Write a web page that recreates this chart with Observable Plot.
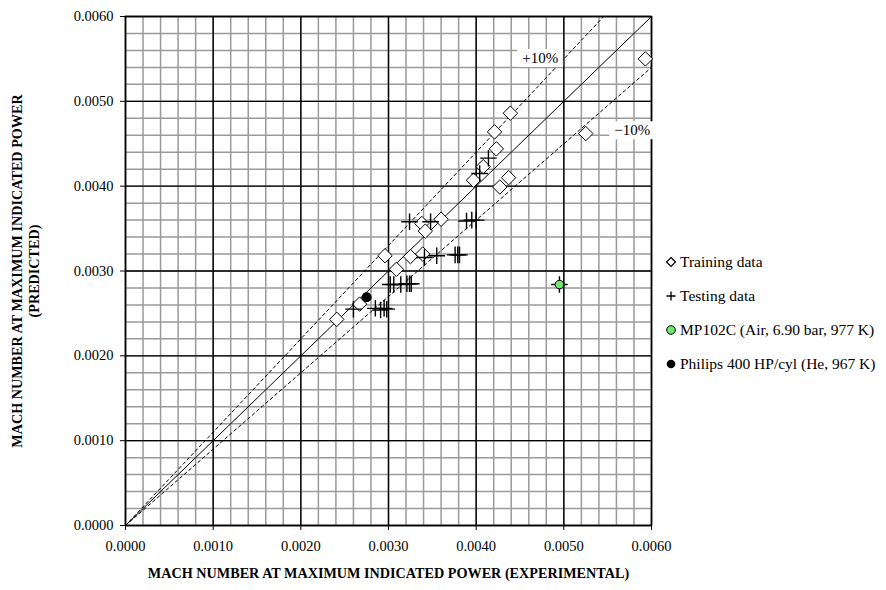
<!DOCTYPE html>
<html><head><meta charset="utf-8">
<script src="https://cdn.jsdelivr.net/npm/d3@7"></script>
<script src="https://cdn.jsdelivr.net/npm/@observablehq/plot@0.6"></script>
<style>
body{margin:0;background:#fff;font-family:"Liberation Serif",serif;}
#wrap{position:relative;width:886px;height:590px;}
#chart{position:absolute;left:0;top:0;}
#legend{position:absolute;left:665px;top:245px;font-size:15.5px;color:#000;}
#legend div{height:34px;display:flex;align-items:center;white-space:nowrap;}
#legend svg{margin-right:3px;}
</style></head><body><div id="wrap"><div id="chart"></div><div id="legend"></div></div>
<script>
// Training data (diamonds)
const trainX = [0.00241,0.00267,0.00296,0.00309,0.00325,0.00339,0.00338,0.00342,0.00360,0.00397,0.00408,0.00423,0.00421,0.00439,0.00437,0.00427,0.00525,0.00593];
const trainY = [0.00243,0.00261,0.00318,0.00302,0.00317,0.00320,0.00356,0.00347,0.00361,0.00407,0.00423,0.00444,0.00464,0.00486,0.00410,0.00399,0.00462,0.00550];
// Testing data (pluses)
const testX = [0.00260,0.00285,0.00291,0.00295,0.00298,0.00302,0.00306,0.00314,0.00321,0.00324,0.00326,0.00341,0.00355,0.00376,0.00379,0.00381,0.00324,0.00348,0.00389,0.00395,0.00400,0.00404,0.00414,0.00495];
const testY = [0.00255,0.00256,0.00254,0.00256,0.00255,0.00284,0.00284,0.00284,0.00285,0.00285,0.00285,0.00316,0.00318,0.00319,0.00319,0.00319,0.00358,0.00358,0.00359,0.00360,0.00360,0.00415,0.00433,0.00284];
// Engines
const mpX = [0.00495], mpY = [0.00284];
const philipsX = [0.00275], philipsY = [0.00269];
// Reference lines: ratio predicted/experimental
const refRatios = [1.0, 1.1, 0.9];
const refLabels = ["", "+10%", "\u221210%"];
const labelX = [null, 0.00473, 0.00578];
const labelY = [null, 0.00551, 0.00466];
// Axes
const axisMax = 0.006;
const majorTicks = [0, 0.001, 0.002, 0.003, 0.004, 0.005, 0.006];
const minorTicks = d3.range(0, 31).map(i => i * 0.0002);
const xTitle = "MACH NUMBER AT MAXIMUM INDICATED POWER (EXPERIMENTAL)";
const yTitle = "MACH NUMBER AT MAXIMUM INDICATED POWER\n(PREDICTED)";
const legendItems = ["Training data", "Testing data", "MP102C (Air, 6.90 bar, 977 K)", "Philips 400 HP/cyl (He, 967 K)"];

const train = trainX.map((x, i) => ({x, y: trainY[i]}));
const test = testX.map((x, i) => ({x, y: testY[i]}));
const mp = mpX.map((x, i) => ({x, y: mpY[i]}));
const philips = philipsX.map((x, i) => ({x, y: philipsY[i]}));
const refLines = refRatios.map((r, i) => {
  const xe = Math.min(axisMax, axisMax / r);
  return [{x: 0, y: 0, k: i}, {x: xe, y: xe * r, k: i}];
});
const labels = refLabels.map((t, i) => ({t, x: labelX[i], y: labelY[i]})).filter(d => d.t);
const boxSymbol = {draw(ctx) { ctx.rect(-23, -9, 46, 18); }};

const chart = Plot.plot({
  width: 700, height: 590,
  marginLeft: 125, marginRight: 49, marginTop: 16, marginBottom: 65,
  style: {fontFamily: "Liberation Serif, serif", fontSize: "14.5px", color: "#000", background: "transparent"},
  x: {domain: [0, axisMax]},
  y: {domain: [0, axisMax]},
  marks: [
    Plot.gridX(minorTicks, {stroke: "#9a9a9a", strokeOpacity: 1, strokeWidth: 1.5}),
    Plot.gridY(minorTicks, {stroke: "#9a9a9a", strokeOpacity: 1, strokeWidth: 1.5}),
    Plot.gridX(majorTicks, {stroke: "#000", strokeOpacity: 1, strokeWidth: 1.4}),
    Plot.gridY(majorTicks, {stroke: "#000", strokeOpacity: 1, strokeWidth: 1.4}),
    Plot.frame({stroke: "#000", strokeWidth: 1.4}),
    Plot.axisX(majorTicks, {tickFormat: d3.format(".4f"), tickSize: 5, tickPadding: 10, label: null}),
    Plot.axisY(majorTicks, {tickFormat: d3.format(".4f"), tickSize: 5, tickPadding: 7, label: null}),
    Plot.line(refLines[0], {x: "x", y: "y", stroke: "#000", strokeWidth: 1}),
    Plot.line(refLines[1], {x: "x", y: "y", stroke: "#000", strokeWidth: 1, strokeDasharray: "3,3"}),
    Plot.line(refLines[2], {x: "x", y: "y", stroke: "#000", strokeWidth: 1, strokeDasharray: "3,3"}),
    Plot.dot(labels, {x: "x", y: "y", symbol: boxSymbol, fill: "#fff", stroke: "none"}),
    Plot.text(labels, {x: "x", y: "y", text: "t", fontSize: 15}),
    Plot.dot(train, {x: "x", y: "y", symbol: "diamond2", r: 6.5, fill: "#fff", stroke: "#000", strokeWidth: 1}),
    Plot.dot(test, {x: "x", y: "y", symbol: "plus", r: 5.4, stroke: "#000", strokeWidth: 1.4}),
    Plot.dot(mp, {x: "x", y: "y", r: 4.3, fill: "#6ee86e", stroke: "#000", strokeWidth: 1}),
    Plot.dot(philips, {x: "x", y: "y", r: 4.3, fill: "#000", stroke: "#000"}),
    Plot.text([xTitle], {frameAnchor: "bottom", dy: 52, fontWeight: "bold", fontSize: 14.2}),
    Plot.text([yTitle], {frameAnchor: "left", dx: -100, rotate: -90, textAnchor: "middle", lineAnchor: "middle", fontWeight: "bold", fontSize: 14.2, lineHeight: 1.2})
  ]
});
document.getElementById("chart").append(chart);

const markerSvgs = [
  '<svg width="12" height="12"><path d="M6,1.5L10.5,6L6,10.5L1.5,6Z" fill="#fff" stroke="#000" stroke-width="1.2"/></svg>',
  '<svg width="12" height="12"><path d="M6,1.5V10.5M1.5,6H10.5" stroke="#000" stroke-width="1.3"/></svg>',
  '<svg width="12" height="12"><circle cx="6" cy="6" r="4.3" fill="#6ee86e" stroke="#000" stroke-width="1"/></svg>',
  '<svg width="12" height="12"><circle cx="6" cy="6" r="4.3" fill="#000"/></svg>'
];
const leg = document.getElementById("legend");
legendItems.forEach((t, i) => {
  const d = document.createElement("div");
  d.innerHTML = markerSvgs[i] + "<span>" + t + "</span>";
  leg.append(d);
});
</script>
</body></html>
